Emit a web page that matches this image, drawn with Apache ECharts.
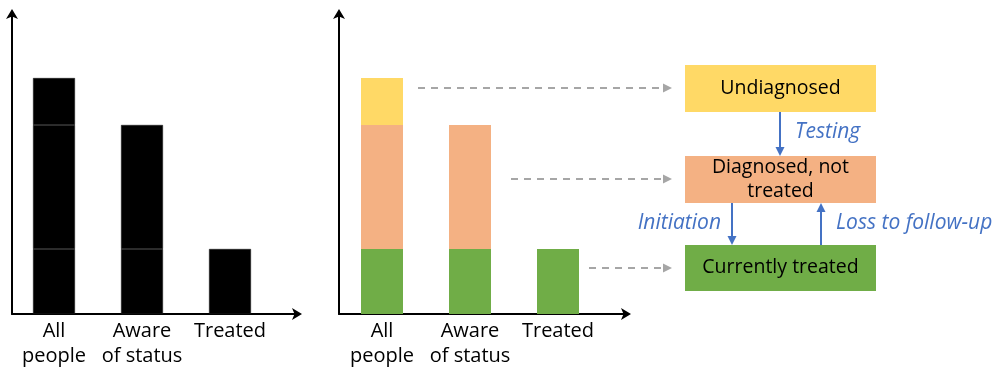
<!DOCTYPE html>
<html>
<head>
<meta charset="utf-8">
<script src="https://cdn.jsdelivr.net/npm/echarts@6/dist/echarts.min.js"></script>
<style>
html,body{margin:0;padding:0;background:#fff;}
#main{width:1000px;height:381px;}
</style>
</head>
<body>
<div id="main"></div>
<script>
// ---- data ----
var categories = ['All\npeople', 'Aware\nof status', 'Treated'];
var treated = [21.6, 21.6, 21.6];
var diagnosedNotTreated = [41.2, 41.2, null];
var undiagnosed = [15.6, null, null];
var flowBoxes = ['Undiagnosed', 'Diagnosed, not\ntreated', 'Currently treated'];
var flowLabels = ['Testing', 'Initiation', 'Loss to follow-up'];

var FONT = '"Open Sans", "Noto Sans", sans-serif';
var C_GREEN = '#70AD47', C_ORANGE = '#F4B183', C_YELLOW = '#FFD966';
var C_BLUE = '#4472C4', C_GRAY = '#A6A6A6';

var chart = echarts.init(document.getElementById('main'), null, {renderer: 'canvas'});

function arrowAxis(gridIndex) {
  return {
    type: 'value', gridIndex: gridIndex, min: 0, max: 1,
    axisLine: {show: true, symbol: ['none', 'arrow'], symbolSize: [9, 10], symbolOffset: [0, 4],
      lineStyle: {color: '#000', width: 2}},
    axisTick: {show: false}, axisLabel: {show: false}, splitLine: {show: false}
  };
}
function catAxis(gridIndex) {
  return {
    type: 'category', gridIndex: gridIndex, data: categories,
    axisLine: {show: false}, axisTick: {show: false}, splitLine: {show: false},
    axisLabel: {color: '#000', fontSize: 20, lineHeight: 25, fontFamily: FONT, margin: 5, interval: 0}
  };
}
function valAxis(gridIndex) {
  return {
    type: 'value', gridIndex: gridIndex, min: 0, max: 100,
    axisLine: {show: false}, axisTick: {show: false}, axisLabel: {show: false}, splitLine: {show: false}
  };
}

var blackStyle = {color: '#000', borderColor: '#1c1c1c', borderWidth: 0.6};

function hArrowHead(x, y, color) {
  return {type: 'polygon', shape: {points: [[x, y], [x - 9, y - 4.5], [x - 9, y + 4.5]]}, style: {fill: color}};
}
function vArrowHead(x, y, dir, color) {
  return {type: 'polygon', shape: {points: [[x, y], [x - 4.5, y - 9 * dir], [x + 4.5, y - 9 * dir]]}, style: {fill: color}};
}

var graphics = [];
// dashed gray connectors
[[418, 88], [511, 179], [589, 268]].forEach(function (p) {
  graphics.push({type: 'line', shape: {x1: p[0], y1: p[1], x2: 664, y2: p[1]},
    style: {stroke: C_GRAY, lineWidth: 2, lineDash: [7, 6]}});
  graphics.push(hArrowHead(672, p[1], C_GRAY));
});
// boxes
var boxYs = [[65, 47], [156, 47], [245, 46]];
var boxColors = [C_YELLOW, C_ORANGE, C_GREEN];
boxYs.forEach(function (b, i) {
  graphics.push({type: 'rect', shape: {x: 685, y: b[0], width: 191, height: b[1]}, style: {fill: boxColors[i]}});
  graphics.push({type: 'text', x: 780.5, y: b[0] + b[1] / 2 - 0.5,
    style: {text: flowBoxes[i], fill: '#000', font: '19.5px ' + FONT, align: 'center', verticalAlign: 'middle', lineHeight: 24}});
});
// blue arrows
graphics.push({type: 'line', shape: {x1: 780, y1: 112, x2: 780, y2: 149}, style: {stroke: C_BLUE, lineWidth: 2}});
graphics.push(vArrowHead(780, 156, 1, C_BLUE));
graphics.push({type: 'line', shape: {x1: 732, y1: 203, x2: 732, y2: 238}, style: {stroke: C_BLUE, lineWidth: 2}});
graphics.push(vArrowHead(732, 245, 1, C_BLUE));
graphics.push({type: 'line', shape: {x1: 821, y1: 245, x2: 821, y2: 210}, style: {stroke: C_BLUE, lineWidth: 2}});
graphics.push(vArrowHead(821, 203, -1, C_BLUE));
// blue italic labels
graphics.push({type: 'text', x: 795, y: 132, style: {text: flowLabels[0], fill: C_BLUE, font: 'italic 21px ' + FONT, align: 'left', verticalAlign: 'middle'}});
graphics.push({type: 'text', x: 721, y: 223, style: {text: flowLabels[1], fill: C_BLUE, font: 'italic 21px ' + FONT, align: 'right', verticalAlign: 'middle'}});
graphics.push({type: 'text', x: 836, y: 223, style: {text: flowLabels[2], fill: C_BLUE, font: 'italic 21px ' + FONT, align: 'left', verticalAlign: 'middle'}});

var option = {
  animation: false,
  backgroundColor: '#fff',
  grid: [
    {left: 12, top: 13, width: 286, height: 301},   // left arrows
    {left: 10, top: 13, width: 264, height: 301},   // left bars
    {left: 339, top: 13, width: 288, height: 301},  // right arrows
    {left: 338, top: 13, width: 264, height: 301}   // right bars
  ],
  xAxis: [arrowAxis(0), catAxis(1), arrowAxis(2), catAxis(3)],
  yAxis: [arrowAxis(0), valAxis(1), arrowAxis(2), valAxis(3)],
  series: [
    {type: 'bar', xAxisIndex: 1, yAxisIndex: 1, stack: 'L', barWidth: 42, data: treated, itemStyle: blackStyle},
    {type: 'bar', xAxisIndex: 1, yAxisIndex: 1, stack: 'L', barWidth: 42, data: diagnosedNotTreated, itemStyle: blackStyle},
    {type: 'bar', xAxisIndex: 1, yAxisIndex: 1, stack: 'L', barWidth: 42, data: undiagnosed, itemStyle: blackStyle},
    {type: 'bar', xAxisIndex: 3, yAxisIndex: 3, stack: 'R', barWidth: 42, data: treated, itemStyle: {color: C_GREEN}},
    {type: 'bar', xAxisIndex: 3, yAxisIndex: 3, stack: 'R', barWidth: 42, data: diagnosedNotTreated, itemStyle: {color: C_ORANGE}},
    {type: 'bar', xAxisIndex: 3, yAxisIndex: 3, stack: 'R', barWidth: 42, data: undiagnosed, itemStyle: {color: C_YELLOW}}
  ],
  graphic: graphics
};
chart.setOption(option);
</script>
</body>
</html>
